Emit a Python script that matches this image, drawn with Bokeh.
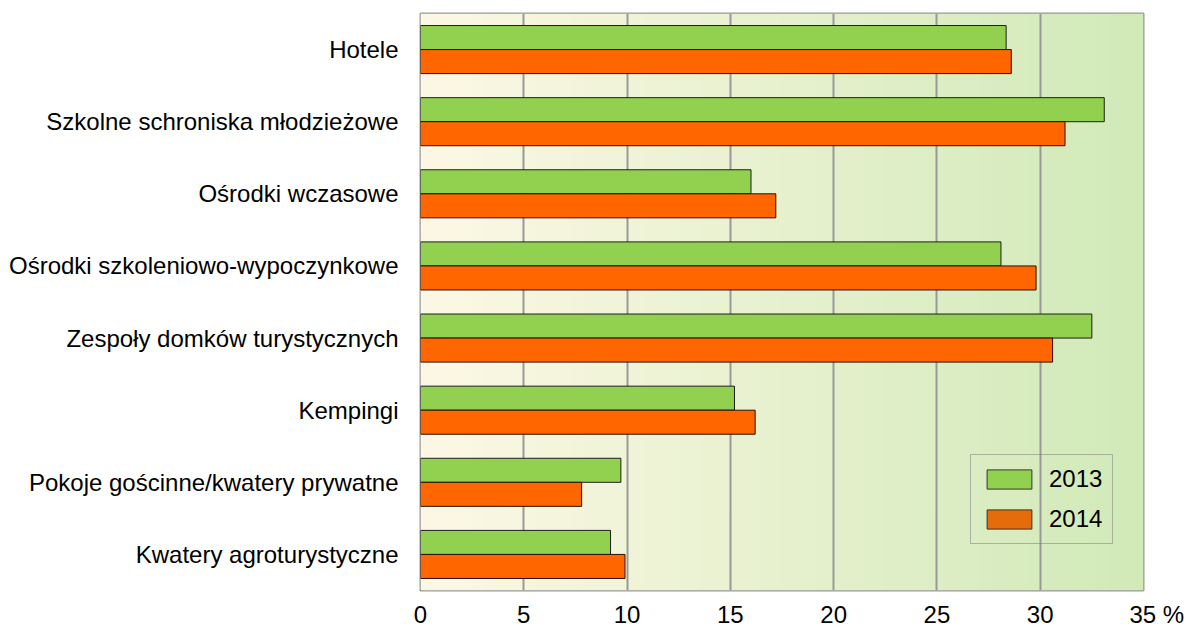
import numpy as np
from bokeh.plotting import figure
from bokeh.models import Range1d, FixedTicker, Legend, LegendItem
from bokeh.embed import file_html
from bokeh.resources import INLINE

categories = [
    "Hotele",
    "Szkolne schroniska młodzieżowe",
    "Ośrodki wczasowe",
    "Ośrodki szkoleniowo-wypoczynkowe",
    "Zespoły domków turystycznych",
    "Kempingi",
    "Pokoje gościnne/kwatery prywatne",
    "Kwatery agroturystyczne",
]
values_2013 = [28.35, 33.1, 16.0, 28.1, 32.5, 15.2, 9.7, 9.2]
values_2014 = [28.6, 31.2, 17.2, 29.8, 30.6, 16.2, 7.8, 9.9]
series_names = ["2013", "2014"]
x_ticks = [0, 5, 10, 15, 20, 25, 30, 35]
x_tick_labels = ["0", "5", "10", "15", "20", "25", "30", "\u00a0\u00a0\u00a0\u00a035\u00a0%"]

FONT = "Liberation Sans"
FS = "24px"

n = len(categories)
ypos = [n - 1 - i for i in range(n)]

p = figure(width=1187, height=630, output_backend="svg", toolbar_location=None,
           x_range=Range1d(0, 35), y_range=Range1d(-0.5, n - 0.5),
           min_border_left=420, min_border_right=44, min_border_top=13, min_border_bottom=40)
p.background_fill_color = None
p.border_fill_color = "white"
p.outline_line_color = "#999999"
p.outline_line_width = 2

# gradient background
cols = 256
t = np.linspace(0, 1, cols)
c0 = np.array([253, 248, 229])
c1 = np.array([209, 234, 184])
rgb = (c0[None, :] * (1 - t[:, None]) + c1[None, :] * t[:, None]).astype(np.uint32)
img = np.empty((1, cols), dtype=np.uint32)
view = img.view(dtype=np.uint8).reshape((1, cols, 4))
view[0, :, 0] = rgb[:, 0]
view[0, :, 1] = rgb[:, 1]
view[0, :, 2] = rgb[:, 2]
view[0, :, 3] = 255
p.image_rgba(image=[img], x=0, y=-0.5, dw=35, dh=n, level="image")

# bars
y13 = [y + 1 / 6 for y in ypos]
y14 = [y - 1 / 6 for y in ypos]
p.hbar(y=y13, right=values_2013, left=0, height=1 / 3, fill_color="#92D050",
       line_color="#1e1e1e", line_width=1)
p.hbar(y=y14, right=values_2014, left=0, height=1 / 3, fill_color="#FF6600",
       line_color="#2a1000", line_width=1)

# legend proxies (placed outside the visible range)
r13 = p.hbar(y=[-100], right=[0], left=0, height=1 / 3, fill_color="#92D050", line_color="#333333")
r14 = p.hbar(y=[-100], right=[0], left=0, height=1 / 3, fill_color="#E46C0A", line_color="#333333")
legend = Legend(items=[LegendItem(label=series_names[0], renderers=[r13]),
                       LegendItem(label=series_names[1], renderers=[r14])],
                location=(550, 46))
legend.glyph_width = 56
legend.glyph_height = 24
legend.label_standoff = 12
legend.padding = 10
legend.spacing = 12
legend.label_width = 50
legend.label_text_font = FONT
legend.label_text_font_size = FS
legend.label_text_color = "black"
legend.background_fill_alpha = 0
legend.border_line_color = "#777777"
legend.border_line_width = 1.5
legend.margin = 0
p.add_layout(legend, "center")

# grid
p.ygrid.grid_line_color = None
p.xgrid.ticker = FixedTicker(ticks=x_ticks)
p.xgrid.grid_line_color = "#999999"
p.xgrid.grid_line_width = 2

# axes
p.xaxis.ticker = FixedTicker(ticks=x_ticks)
p.xaxis.major_label_overrides = {t_: l_ for t_, l_ in zip(x_ticks, x_tick_labels)}
p.xaxis.axis_line_color = None
p.xaxis.major_tick_line_color = None
p.xaxis.minor_tick_line_color = None
p.xaxis.major_tick_out = 0
p.xaxis.major_label_standoff = 10
p.xaxis.major_label_text_font = FONT
p.xaxis.major_label_text_font_size = FS
p.xaxis.major_label_text_color = "black"

p.yaxis.ticker = FixedTicker(ticks=ypos)
p.yaxis.major_label_overrides = {y: c for y, c in zip(ypos, categories)}
p.yaxis.axis_line_color = None
p.yaxis.major_tick_line_color = None
p.yaxis.minor_tick_line_color = None
p.yaxis.major_tick_out = 0
p.yaxis.major_label_standoff = 22
p.yaxis.major_label_text_font = FONT
p.yaxis.major_label_text_font_size = FS
p.yaxis.major_label_text_color = "black"

open("out.html", "w").write(file_html(p, INLINE))
